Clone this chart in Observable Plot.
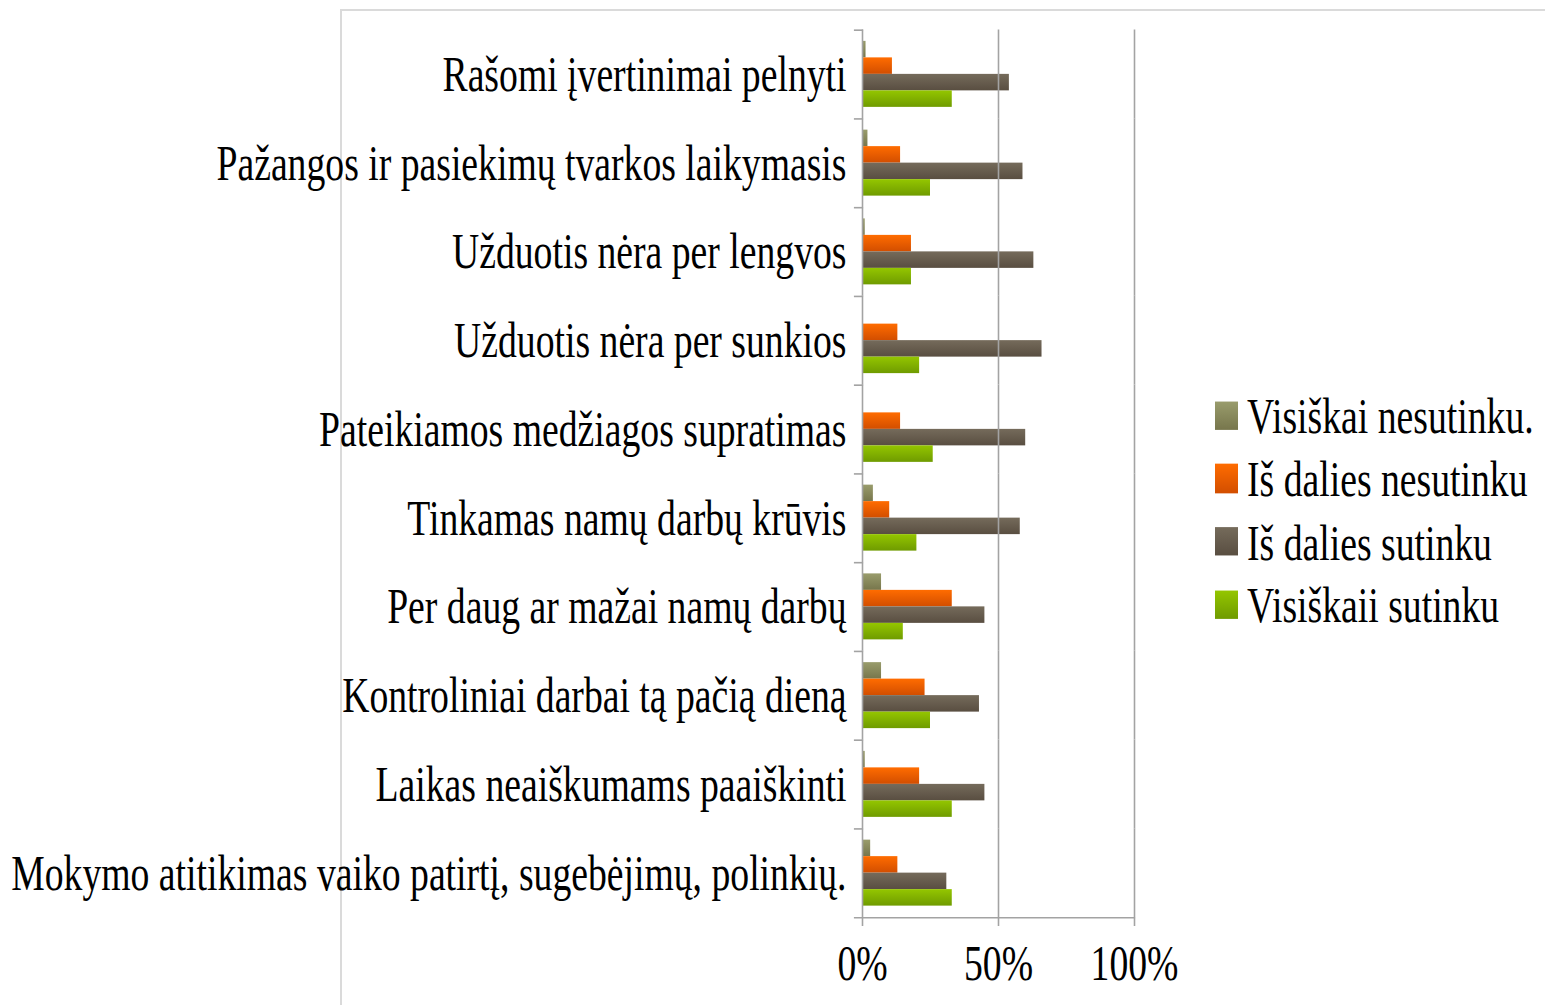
<!DOCTYPE html>
<html><head><meta charset="utf-8">
<script src="https://cdn.jsdelivr.net/npm/d3@7"></script>
<script src="https://cdn.jsdelivr.net/npm/@observablehq/plot@0.6"></script>
<style>
html,body{margin:0;padding:0;background:#fff;width:1545px;height:1005px;overflow:hidden;}
#border{position:absolute;left:340px;top:9px;width:1300px;height:1100px;border-left:2px solid #dadada;border-top:2px solid #dadada;}
#chart{position:absolute;left:0;top:0;}
#chart svg{display:block;}
#legend{position:absolute;left:1215px;top:384px;transform-origin:0 0;transform:scaleY(1.35);font-family:"Liberation Serif";font-size:37.7px;color:#000;}
.item{height:46.7px;display:flex;align-items:center;white-space:nowrap;}
.sw{width:23px;height:21.5px;margin-right:9px;flex:none;}
</style></head><body>
<div id="border"></div><div id="chart"></div><div id="legend"></div>
<script>
const categories = [
  "Rašomi įvertinimai pelnyti",
  "Pažangos ir pasiekimų tvarkos laikymasis",
  "Užduotis nėra per lengvos",
  "Užduotis nėra per sunkios",
  "Pateikiamos medžiagos supratimas",
  "Tinkamas namų darbų krūvis",
  "Per daug ar mažai namų darbų",
  "Kontroliniai darbai tą pačią dieną",
  "Laikas neaiškumams paaiškinti",
  "Mokymo atitikimas vaiko patirtį, sugebėjimų, polinkių."
];
const series = ["Visiškai nesutinku.", "Iš dalies nesutinku", "Iš dalies sutinku", "Visiškaii sutinku"];
const visiskaiNesutinku = [0.013, 0.02, 0.01, 0.00, 0.00, 0.04, 0.07, 0.07, 0.01, 0.03];
const isDaliesNesutinku = [0.11, 0.14, 0.18, 0.13, 0.14, 0.10, 0.33, 0.23, 0.21, 0.13];
const isDaliesSutinku   = [0.54, 0.59, 0.63, 0.66, 0.60, 0.58, 0.45, 0.43, 0.45, 0.31];
const visiskaiSutinku   = [0.33, 0.25, 0.18, 0.21, 0.26, 0.20, 0.15, 0.25, 0.33, 0.33];
const seriesValues = [visiskaiNesutinku, isDaliesNesutinku, isDaliesSutinku, visiskaiSutinku];
const colorsTop    = ["#999c6c", "#ff6c00", "#756b5b", "#94c600"];
const colorsBottom = ["#77764c", "#d24e00", "#594e41", "#6f9b00"];
const tickValues = [0, 0.5, 1];

const S = 1.35, W = 1545, H = 1005 / S;
const rows = categories.flatMap((c, i) => series.map((s, j) => ({category: c, series: s, value: seriesValues[j][i]})));
const gray = "#a3a3a3";
const FS = 37.7;

const plot = Plot.plot({
  width: W, height: H,
  marginTop: 29.5 / S, marginBottom: (1005 - 917) / S, marginLeft: 862, marginRight: 1545 - 1134,
  style: {fontFamily: "Liberation Serif", fontSize: FS + "px", color: "#000", background: "transparent", overflow: "visible"},
  x: {domain: [0, 1], axis: null},
  y: {domain: series, paddingInner: 0, paddingOuter: 0.69, round: false, axis: null},
  fy: {domain: categories, padding: 0, round: false, axis: null},
  color: {domain: series, range: series.map((s, i) => `url(#grad${i})`)},
  marks: [
    Plot.barX(rows, {x: "value", y: "series", fy: "category", fill: "series"}),
    Plot.ruleX(tickValues, {stroke: gray, strokeWidth: 1.6}),
    Plot.frame({anchor: "top", insetLeft: -8, insetRight: 272, stroke: gray, strokeWidth: 1.6 / S}),
    Plot.frame({anchor: "bottom", facetAnchor: "bottom", insetLeft: -8, stroke: gray, strokeWidth: 1.6 / S}),
    Plot.axisX(tickValues, {anchor: "bottom", label: null, tickFormat: d3.format(".0%"), tickSize: 9 / S, tickPadding: 12.5, stroke: gray, strokeWidth: 1.6, fill: "#000", fontSize: FS}),
    Plot.axisFy({anchor: "left", label: null, tickSize: 0, tickPadding: 16, fontSize: FS, fill: "#000"})
  ]
});

const svg = plot.tagName.toLowerCase() === "svg" ? plot : plot.querySelector("svg");
const ns = "http://www.w3.org/2000/svg";
const defs = document.createElementNS(ns, "defs");
series.forEach((s, i) => {
  const g = document.createElementNS(ns, "linearGradient");
  g.setAttribute("id", `grad${i}`);
  g.setAttribute("x1", "0"); g.setAttribute("y1", "0"); g.setAttribute("x2", "0"); g.setAttribute("y2", "1");
  [[0, colorsTop[i]], [1, colorsBottom[i]]].forEach(([o, c]) => {
    const st = document.createElementNS(ns, "stop");
    st.setAttribute("offset", o); st.setAttribute("stop-color", c);
    g.appendChild(st);
  });
  defs.appendChild(g);
});
svg.insertBefore(defs, svg.firstChild);
svg.setAttribute("preserveAspectRatio", "none");
svg.setAttribute("width", W); svg.setAttribute("height", 1005);
svg.style.width = W + "px"; svg.style.height = "1005px"; svg.style.maxWidth = "none";
document.getElementById("chart").appendChild(plot);

const legend = document.getElementById("legend");
series.forEach((s, i) => {
  const item = document.createElement("div");
  item.className = "item";
  const sw = document.createElement("span");
  sw.className = "sw";
  sw.style.background = `linear-gradient(to bottom, ${colorsTop[i]}, ${colorsBottom[i]})`;
  const t = document.createElement("span");
  t.textContent = s;
  item.appendChild(sw); item.appendChild(t);
  legend.appendChild(item);
});
</script>
</body></html>
